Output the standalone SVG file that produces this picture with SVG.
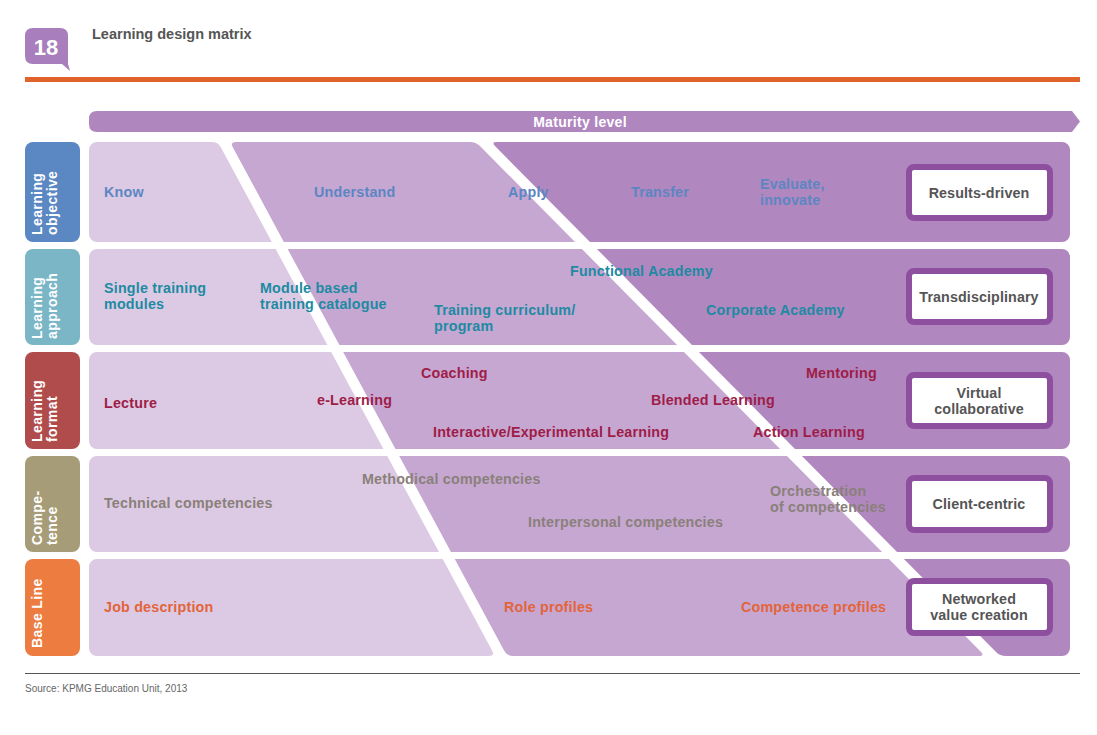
<svg xmlns="http://www.w3.org/2000/svg" width="1097" height="735" viewBox="0 0 1097 735">
<style>
text{font-family:"Liberation Sans",Arial,sans-serif;font-weight:bold}
.t{font-size:14.3px;letter-spacing:0.2px}
.lbl{font-size:14px;fill:#fff;letter-spacing:0.4px}
.r1{fill:#5b86c2}
.r2{fill:#1e8aa2}
.r3{fill:#9e1d48}
.r4{fill:#8a807a}
.r5{fill:#e2643a}
.box{fill:#fff;stroke:#8f4f9f;stroke-width:6}
.bt{font-size:14.3px;fill:#555;text-anchor:middle;letter-spacing:0.1px}
</style>
<defs>
<clipPath id="rows">
<rect x="89" y="142" width="981" height="100" rx="8"/>
<rect x="89" y="249" width="981" height="96" rx="8"/>
<rect x="89" y="352" width="981" height="97" rx="8"/>
<rect x="89" y="456" width="981" height="96" rx="8"/>
<rect x="89" y="559" width="981" height="97" rx="8"/>
</clipPath>
</defs>
<rect width="1097" height="735" fill="#fff"/>
<g id="header">
<path d="M33,28 H60 Q68,28 68,36 V64 L70,71 L62,64 H33 Q25,64 25,56 V36 Q25,28 33,28 Z" fill="#a87fbc"/>
<text x="46" y="55" font-size="22" fill="#fff" text-anchor="middle" style="font-family:'Liberation Sans Narrow','Liberation Sans',sans-serif">18</text>
<text x="92" y="39" font-size="14.5" fill="#555">Learning design matrix</text>
<rect x="25" y="77" width="1055" height="5" fill="#e0642a"/>
</g>
<g id="maturity">
<path d="M97,111 H1072 L1080,121.5 L1072,132 H97 Q89,132 89,124 V119 Q89,111 97,111 Z" fill="#b086bf"/>
<text x="580" y="126.5" font-size="14" fill="#fff" text-anchor="middle" letter-spacing="0.3">Maturity level</text>
</g>
<g id="matrix" clip-path="url(#rows)">
<path d="M80,142 H212 Q218,142 220.8,147.3 L492.2,650.7 Q495,656 489,656 H80 Z" fill="#dccae4"/>
<path d="M232.8,147.3 Q230,142 236,142 H470 Q476,142 480.2,146.3 L980.8,651.7 Q985,656 979,656 H513 Q507,656 504.2,650.7 Z" fill="#c6a7d2"/>
<path d="M495.2,146.3 Q491,142 497,142 H1080 V656 H1006 Q1000,656 995.8,651.7 Z" fill="#b187bf"/>
</g>
<g id="labels">
<rect x="25" y="142" width="55" height="100" rx="8" fill="#5b87c2"/>
<text class="lbl" transform="translate(42,235) rotate(-90)"><tspan x="0" y="0">Learning</tspan><tspan x="0" y="15">objective</tspan></text>
<rect x="25" y="249" width="55" height="96" rx="8" fill="#7ab6c6"/>
<text class="lbl" transform="translate(42,339) rotate(-90)"><tspan x="0" y="0">Learning</tspan><tspan x="0" y="15">approach</tspan></text>
<rect x="25" y="352" width="55" height="97" rx="8" fill="#b04d4c"/>
<text class="lbl" transform="translate(42,442) rotate(-90)"><tspan x="0" y="0">Learning</tspan><tspan x="0" y="15">format</tspan></text>
<rect x="25" y="456" width="55" height="96" rx="8" fill="#a69d78"/>
<text class="lbl" transform="translate(42,545) rotate(-90)"><tspan x="0" y="0">Compe-</tspan><tspan x="0" y="15">tence</tspan></text>
<rect x="25" y="559" width="55" height="97" rx="8" fill="#ec7c40"/>
<text class="lbl" transform="translate(42,648) rotate(-90)">Base Line</text>
</g>
<g id="row1">
<text class="t r1" x="104" y="197">Know</text>
<text class="t r1" x="314" y="197">Understand</text>
<text class="t r1" x="508" y="197">Apply</text>
<text class="t r1" x="631" y="197">Transfer</text>
<text class="t r1" x="760" y="189">Evaluate,</text>
<text class="t r1" x="760" y="205">innovate</text>
</g>
<g id="row2">
<text class="t r2" x="104" y="293">Single training</text>
<text class="t r2" x="104" y="309">modules</text>
<text class="t r2" x="260" y="293">Module based</text>
<text class="t r2" x="260" y="309">training catalogue</text>
<text class="t r2" x="570" y="276">Functional Academy</text>
<text class="t r2" x="434" y="315">Training curriculum/</text>
<text class="t r2" x="434" y="331">program</text>
<text class="t r2" x="706" y="315">Corporate Academy</text>
</g>
<g id="row3">
<text class="t r3" x="421" y="378">Coaching</text>
<text class="t r3" x="806" y="378">Mentoring</text>
<text class="t r3" x="104" y="408">Lecture</text>
<text class="t r3" x="317" y="405">e-Learning</text>
<text class="t r3" x="651" y="405">Blended Learning</text>
<text class="t r3" x="433" y="437">Interactive/Experimental Learning</text>
<text class="t r3" x="753" y="437">Action Learning</text>
</g>
<g id="row4">
<text class="t r4" x="362" y="484">Methodical competencies</text>
<text class="t r4" x="104" y="508">Technical competencies</text>
<text class="t r4" x="770" y="496">Orchestration</text>
<text class="t r4" x="770" y="512">of competencies</text>
<text class="t r4" x="528" y="527">Interpersonal competencies</text>
</g>
<g id="row5">
<text class="t r5" x="104" y="612">Job description</text>
<text class="t r5" x="504" y="612">Role profiles</text>
<text class="t r5" x="741" y="612">Competence profiles</text>
</g>
<g id="results">
<g id="box1"><rect class="box" x="909" y="167" width="141" height="51" rx="5"/><text class="bt" x="979" y="198">Results-driven</text></g>
<g id="box2"><rect class="box" x="909" y="271" width="141" height="51" rx="5"/><text class="bt" x="979" y="302">Transdisciplinary</text></g>
<g id="box3"><rect class="box" x="909" y="375" width="141" height="51" rx="5"/><text class="bt" x="979" y="398">Virtual</text><text class="bt" x="979" y="414">collaborative</text></g>
<g id="box4"><rect class="box" x="909" y="478" width="141" height="52" rx="5"/><text class="bt" x="979" y="509">Client-centric</text></g>
<g id="box5"><rect class="box" x="909" y="581" width="141" height="52" rx="5"/><text class="bt" x="979" y="604">Networked</text><text class="bt" x="979" y="620">value creation</text></g>
</g>
<g id="footer">
<rect x="25" y="673" width="1055" height="1" fill="#555"/>
<text x="25" y="692" font-size="10" fill="#666" style="font-weight:normal">Source: KPMG Education Unit, 2013</text>
</g>
</svg>
